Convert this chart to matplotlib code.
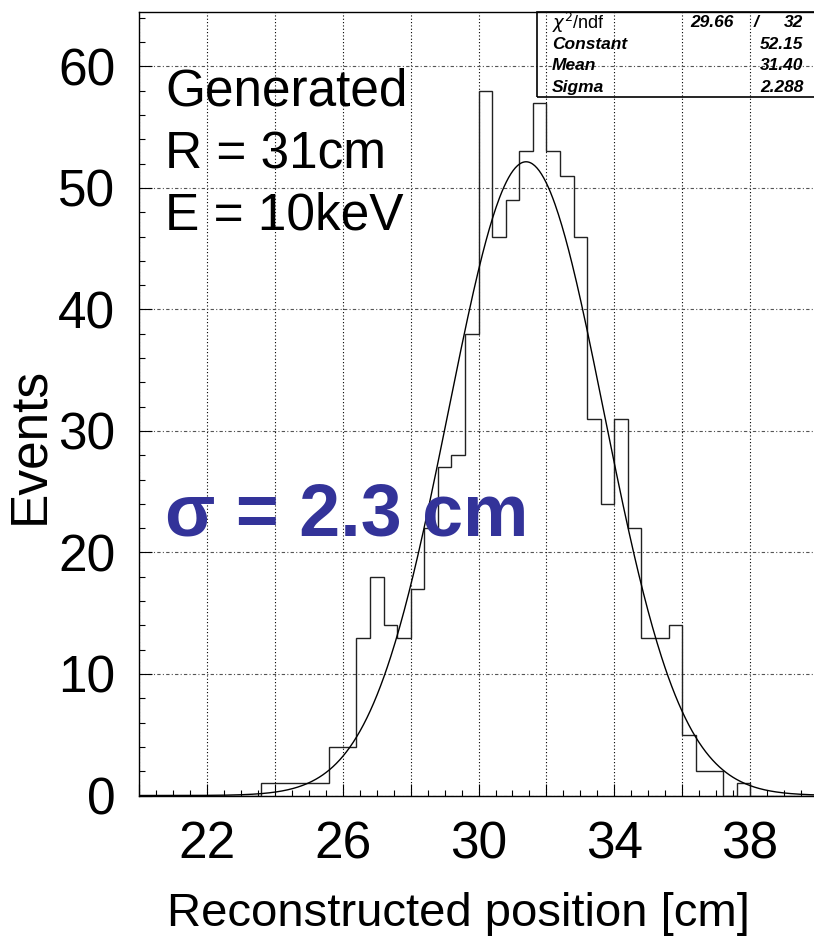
import matplotlib
matplotlib.use("Agg")
import matplotlib.pyplot as plt
import numpy as np
from matplotlib.ticker import MultipleLocator, FuncFormatter
from matplotlib.patches import Rectangle

plt.rcParams['font.family'] = ['Liberation Sans', 'DejaVu Sans']

# histogram: 50 bins of 0.4 cm between 20 and 40 cm
x_lo, x_hi, n_bins = 20.0, 40.0, 50
counts = [0, 0, 0, 0, 0, 0, 0, 0, 0,
          1, 1, 1, 1, 1,
          4, 4,
          13, 18, 14, 13, 17, 22, 27, 28, 38, 58, 46, 49, 53, 57,
          53, 51, 46, 31, 24, 31, 22, 13, 13, 14, 5, 2, 2, 0, 1,
          0, 0, 0, 0, 0]

# gaussian fit parameters (stats box)
fit_const, fit_mean, fit_sigma = 52.15, 31.40, 2.288
chi2, ndf = 29.66, 32

W, H = 814, 939
fig = plt.figure(figsize=(W / 100, H / 100), dpi=100)
ax = fig.add_axes([139.1 / W, 1 - 795.5 / H, (818 - 139.1) / W, (795.5 - 11.7) / H])

edges = np.linspace(x_lo, x_hi, n_bins + 1)
ax.stairs(counts, edges, color='#222222', linewidth=1.0, zorder=3)

xf = np.linspace(x_lo, x_hi, 600)
yf = fit_const * np.exp(-0.5 * ((xf - fit_mean) / fit_sigma) ** 2)
ax.plot(xf, yf, color='black', linewidth=1.0, zorder=4)

ax.set_xlim(x_lo, x_hi)
ax.set_ylim(0, 64.5)

ax.xaxis.set_major_locator(MultipleLocator(2))
ax.xaxis.set_minor_locator(MultipleLocator(0.5))
ax.yaxis.set_major_locator(MultipleLocator(10))
ax.yaxis.set_minor_locator(MultipleLocator(2))
ax.xaxis.set_major_formatter(FuncFormatter(lambda v, p: '%d' % v if round(v - 22) % 4 == 0 else ''))

ax.tick_params(which='both', direction='in', top=False, right=False, color='black')
ax.tick_params(which='major', length=9, width=0.8)
ax.tick_params(which='minor', length=4.5, width=0.8)
ax.tick_params(axis='y', labelsize=37, pad=17)
ax.tick_params(axis='x', labelsize=37, pad=18)

ax.grid(axis='x', which='major', color='black', linestyle=(0, (1, 2)), linewidth=0.8)
ax.grid(axis='y', which='major', color='#555555', linestyle=(0, (3, 2, 1, 2)), linewidth=0.8)
ax.set_axisbelow(True)
for s in ax.spines.values():
    s.set_linewidth(1.0)

# axis titles
fig.text(30 / W, 1 - 445 / H, 'Events', rotation=90, ha='center', va='center', fontsize=37)
fig.text(458 / W, 1 - 914 / H, 'Reconstructed position [cm]', ha='center', va='center',
         fontsize=34)

# annotations
for txt, yb in [('Generated', 105), ('R = 31cm', 168.3), ('E = 10keV', 230)]:
    fig.text(165 / W, 1 - yb / H, txt, ha='left', va='baseline', fontsize=37)
fig.text(165 / W, 1 - 535 / H, '\u03c3 = 2.3 cm', ha='left', va='baseline',
         fontsize=53, fontweight='bold', color='#333399')

# stats box
fig.patches.append(Rectangle((537.3 / W, 1 - 96.7 / H), 0.4, (96.7 - 11.7) / H, fill=False,
                             edgecolor='black', linewidth=1.2, transform=fig.transFigure))
rows = [22.7, 44.3, 65.7, 87.3]
sfont = dict(fontsize=12.5, fontweight='bold', style='italic', va='center')
fig.text(551.7 / W, 1 - rows[0] / H, r'$\chi^{2}$/ndf', fontsize=13, va='center')
fig.text(733.3 / W, 1 - rows[0] / H, '%.2f' % chi2, ha='right', **sfont)
fig.text(754 / W, 1 - rows[0] / H, '/', ha='left', **sfont)
fig.text(803.3 / W, 1 - rows[0] / H, '%d' % ndf, ha='right', **sfont)
for name, val, yr in [('Constant', '%.2f' % fit_const, rows[1]),
                      ('Mean', '%.2f' % fit_mean, rows[2]),
                      ('Sigma', '%.3f' % fit_sigma, rows[3])]:
    fig.text(551.7 / W, 1 - yr / H, name, ha='left', **sfont)
    fig.text(803.3 / W, 1 - yr / H, val, ha='right', **sfont)

fig.savefig('out.png', dpi=100)
